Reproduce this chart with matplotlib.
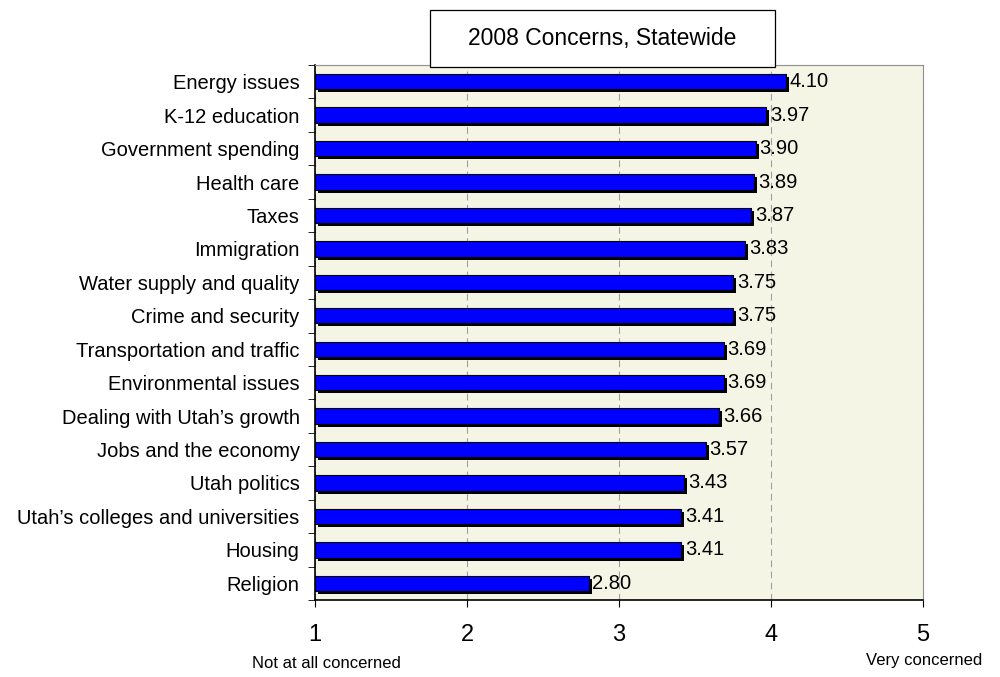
import matplotlib.pyplot as plt
from matplotlib import transforms
from matplotlib.patches import Rectangle

categories = ['Energy issues', 'K-12 education', 'Government spending', 'Health care',
              'Taxes', 'Immigration', 'Water supply and quality', 'Crime and security',
              'Transportation and traffic', 'Environmental issues',
              'Dealing with Utah\u2019s growth', 'Jobs and the economy', 'Utah politics',
              'Utah\u2019s colleges and universities', 'Housing', 'Religion']
values = [4.10, 3.97, 3.90, 3.89, 3.87, 3.83, 3.75, 3.75, 3.69, 3.69,
          3.66, 3.57, 3.43, 3.41, 3.41, 2.80]
base = 1

plt.rcParams['font.family'] = ['Arial', 'Liberation Sans', 'DejaVu Sans']

fig = plt.figure(figsize=(10, 6.77), dpi=100)
ax = fig.add_axes([0.315, 0.1137, 0.608, 0.7903])
ax.set_facecolor('#f5f5e6')

ypos = list(range(len(categories)))
widths = [v - base for v in values]

# drop shadow behind each bar
shadow = transforms.offset_copy(ax.transData, fig=fig, x=3, y=-3, units='dots')
ax.barh(ypos, widths, left=base, height=0.46, color='black', transform=shadow, zorder=2)
ax.barh(ypos, widths, left=base, height=0.46, color='#0000ff', edgecolor='black',
        linewidth=0.8, zorder=3)

for y, v in zip(ypos, values):
    ax.text(v + 0.025, y, f'{v:.2f}', va='center', ha='left', fontsize=14.5, zorder=4)

ax.set_xlim(1, 5)
ax.set_ylim(len(categories) - 0.5, -0.5)
ax.set_xticks([1, 2, 3, 4, 5])
ax.tick_params(axis='x', labelsize=17, length=5, pad=12, color='black')
ax.set_yticks(ypos)
ax.set_yticklabels(categories, fontsize=14.5)
ax.set_yticks([i - 0.5 for i in range(len(categories) + 1)], minor=True)
ax.tick_params(axis='y', which='major', length=0, pad=11)
ax.tick_params(axis='y', which='minor', length=5, color='black')

ax.grid(axis='x', linestyle=(0, (6, 4)), color='#a0a0a0', linewidth=0.8, zorder=1)
ax.set_axisbelow(True)

for side in ['top', 'right']:
    ax.spines[side].set_color('#909090')
for side in ['left', 'bottom']:
    ax.spines[side].set_color('black')
    ax.spines[side].set_linewidth(1.2)

fig.text(0.326, 1 - 663 / 677, 'Not at all concerned', ha='center', va='center', fontsize=12)
fig.text(0.924, 1 - 660 / 677, 'Very concerned', ha='center', va='center', fontsize=12)

# title box
fig.patches.append(Rectangle((0.43, 1 - 67 / 677), 0.345, 57 / 677, transform=fig.transFigure,
                             facecolor='white', edgecolor='black', linewidth=0.9, zorder=5))
fig.text(0.6025, 1 - 39 / 677, '2008 Concerns, Statewide', ha='center', va='center',
         fontsize=16.5, zorder=6)

plt.savefig('out.png', dpi=100)
